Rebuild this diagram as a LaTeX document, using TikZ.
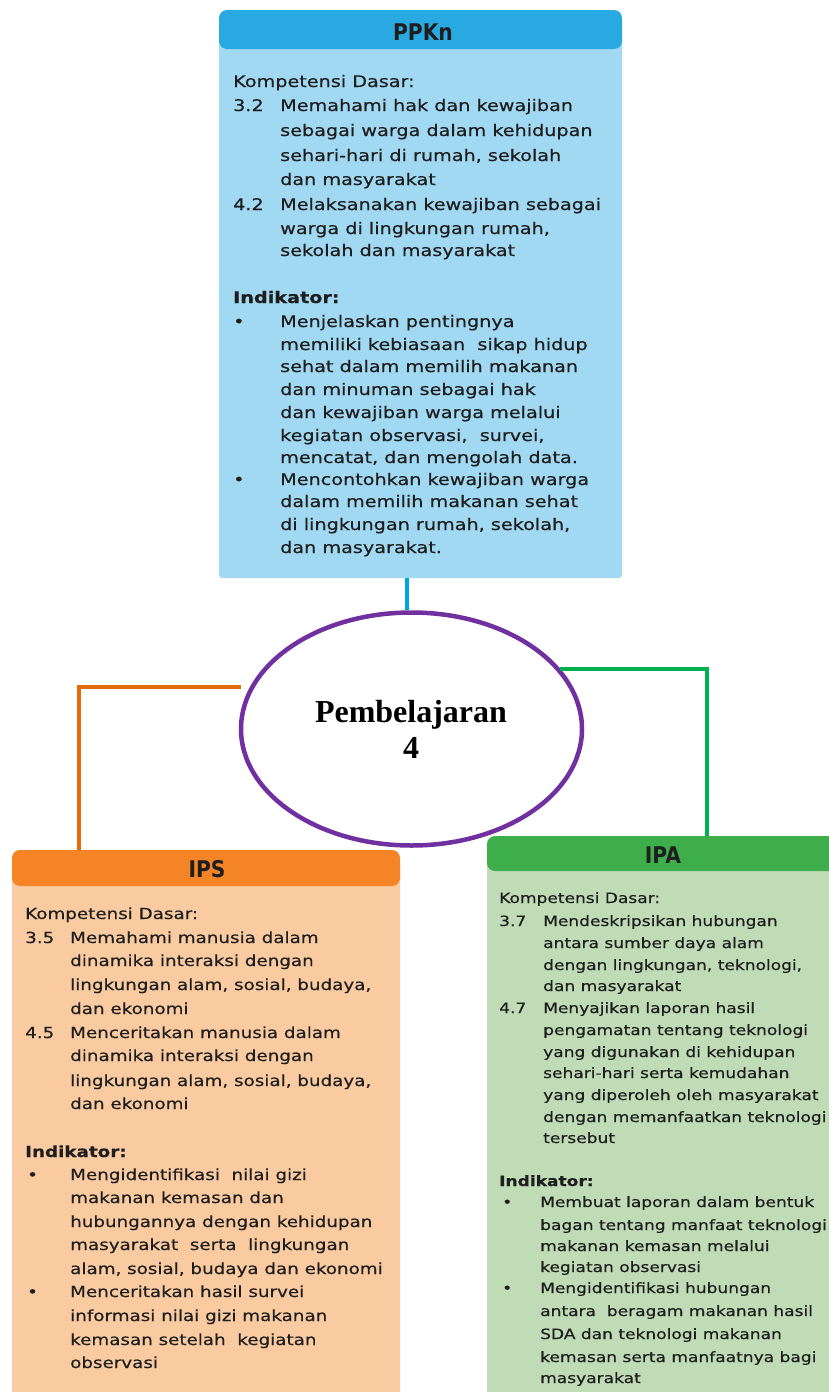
\documentclass[tikz,border=0pt]{standalone}
\usepackage{fontspec}
\usetikzlibrary{shapes.geometric}
\newfontfamily\bodyfont[FakeStretch=1.2,FakeBold=0.45]{DejaVu Sans}
\newfontfamily\hdrfont[FakeStretch=0.88]{DejaVu Sans}
\newfontfamily\serifb{Liberation Serif}
\definecolor{ppkhead}{HTML}{29A9E1}
\definecolor{ppkbody}{HTML}{A1D9F3}
\definecolor{ipshead}{HTML}{F48426}
\definecolor{ipsbody}{HTML}{FACBA1}
\definecolor{ipahead}{HTML}{3EAE4A}
\definecolor{ipabody}{HTML}{BFDCB6}
\definecolor{txtcol}{HTML}{1E1E1E}
\definecolor{bluel}{HTML}{00A2E8}
\definecolor{orangel}{HTML}{E46C0A}
\definecolor{greenl}{HTML}{00B050}
\definecolor{purplel}{HTML}{7030A0}
\newcounter{tlc}
\newcommand\tl[3]{\stepcounter{tlc}\node[txt] (t\arabic{tlc}) at (#1,#2) {#3};}
\begin{document}
\begin{tikzpicture}[x=1pt,y=-1pt,
  txt/.style={anchor=base west, inner sep=0pt, text=txtcol},
  hdrtxt/.style={anchor=base, inner sep=0pt, text=txtcol, font=\hdrfont\bfseries\fontsize{23}{26}\selectfont},
  bodybox/.style={rectangle, rounded corners=3pt, inner sep=0pt, draw=none},
  hdrbox/.style={rectangle, rounded corners=8pt, inner sep=0pt, draw=none},
  conn/.style={line width=4pt, line cap=butt, line join=miter}]
\useasboundingbox (0,0) rectangle (829,1392);
\fill[white] (0,0) rectangle (829,1392);

% ---------- PPKn ----------
\node[bodybox, fill=ppkbody, minimum width=403pt, minimum height=548pt] (ppkb) at (420.5,304) {};
\node[hdrbox, fill=ppkhead, minimum width=403pt, minimum height=39pt] (ppkh) at (420.5,29.5) {};
\node[hdrtxt] (ppkt) at (423,40) {PPKn};
\begin{scope}[every node/.append style={font=\bodyfont\fontsize{16}{19}\selectfont}]
\tl{233}{87}{Kompetensi Dasar:}
\tl{233}{111}{3.2}
\tl{280}{111}{Memahami hak dan kewajiban}
\tl{280}{136}{sebagai warga dalam kehidupan}
\tl{280}{161}{sehari-hari di rumah, sekolah}
\tl{280}{185}{dan masyarakat}
\tl{233}{210}{4.2}
\tl{280}{210}{Melaksanakan kewajiban sebagai}
\tl{280}{234}{warga di lingkungan rumah,}
\tl{280}{256}{sekolah dan masyarakat}
\tl{233}{303}{\bfseries Indikator:}
\tl{233}{327}{•}
\tl{280}{327}{Menjelaskan pentingnya}
\tl{280}{350}{memiliki kebiasaan\ \ sikap hidup}
\tl{280}{372}{sehat dalam memilih makanan}
\tl{280}{395}{dan minuman sebagai hak}
\tl{280}{418}{dan kewajiban warga melalui}
\tl{280}{441}{kegiatan observasi,\ \ survei,}
\tl{280}{463}{mencatat, dan mengolah data.}
\tl{233}{485}{•}
\tl{280}{485}{Mencontohkan kewajiban warga}
\tl{280}{507}{dalam memilih makanan sehat}
\tl{280}{530}{di lingkungan rumah, sekolah,}
\tl{280}{553}{dan masyarakat.}
\end{scope}

% ---------- IPS ----------
\node[bodybox, fill=ipsbody, minimum width=388pt, minimum height=532pt] (ipsb) at (206,1134) {};
\node[hdrbox, fill=ipshead, minimum width=388pt, minimum height=36pt] (ipsh) at (206,868) {};
\node[hdrtxt] (ipst) at (207,877) {IPS};
\begin{scope}[every node/.append style={font=\bodyfont\fontsize{15.25}{18}\selectfont}]
\tl{25}{919}{Kompetensi Dasar:}
\tl{25}{943}{3.5}
\tl{70}{943}{Memahami manusia dalam}
\tl{70}{966}{dinamika interaksi dengan}
\tl{70}{990}{lingkungan alam, sosial, budaya,}
\tl{70}{1014}{dan ekonomi}
\tl{25}{1038}{4.5}
\tl{70}{1038}{Menceritakan manusia dalam}
\tl{70}{1061}{dinamika interaksi dengan}
\tl{70}{1086}{lingkungan alam, sosial, budaya,}
\tl{70}{1109}{dan ekonomi}
\tl{25}{1157}{\bfseries Indikator:}
\tl{27}{1180}{•}
\tl{70}{1180}{Mengidentifikasi\ \ nilai gizi}
\tl{70}{1203}{makanan kemasan dan}
\tl{70}{1227}{hubungannya dengan kehidupan}
\tl{70}{1250}{masyarakat\ \ serta\ \ lingkungan}
\tl{70}{1274}{alam, sosial, budaya dan ekonomi}
\tl{27}{1297}{•}
\tl{70}{1297}{Menceritakan hasil survei}
\tl{70}{1321}{informasi nilai gizi makanan}
\tl{70}{1345}{kemasan setelah\ \ kegiatan}
\tl{70}{1368}{observasi}
\end{scope}

% ---------- IPA ----------
\node[bodybox, fill=ipabody, minimum width=345pt, minimum height=542pt] (ipab) at (659.5,1124) {};
\node[hdrbox, fill=ipahead, minimum width=350pt, minimum height=35pt] (ipah) at (662,853.5) {};
\node[hdrtxt] (ipat) at (663,863) {IPA};
\begin{scope}[every node/.append style={font=\bodyfont\fontsize{14.2}{17}\selectfont}]
\tl{499}{903}{Kompetensi Dasar:}
\tl{499}{926}{3.7}
\tl{543}{926}{Mendeskripsikan hubungan}
\tl{543}{948}{antara sumber daya alam}
\tl{543}{970}{dengan lingkungan, teknologi,}
\tl{543}{991}{dan masyarakat}
\tl{499}{1013}{4.7}
\tl{543}{1013}{Menyajikan laporan hasil}
\tl{543}{1035}{pengamatan tentang teknologi}
\tl{543}{1057}{yang digunakan di kehidupan}
\tl{543}{1078}{sehari-hari serta kemudahan}
\tl{543}{1100}{yang diperoleh oleh masyarakat}
\tl{543}{1122}{dengan memanfaatkan teknologi}
\tl{543}{1143}{tersebut}
\tl{499}{1186}{\bfseries Indikator:}
\tl{502}{1207}{•}
\tl{540}{1207}{Membuat laporan dalam bentuk}
\tl{540}{1230}{bagan tentang manfaat teknologi}
\tl{540}{1251}{makanan kemasan melalui}
\tl{540}{1272}{kegiatan observasi}
\tl{502}{1293}{•}
\tl{540}{1293}{Mengidentifikasi hubungan}
\tl{540}{1316}{antara\ \ beragam makanan hasil}
\tl{540}{1339}{SDA dan teknologi makanan}
\tl{540}{1362}{kemasan serta manfaatnya bagi}
\tl{540}{1383}{masyarakat}
\end{scope}

% ---------- centre ellipse ----------
\node[ellipse, draw=purplel, line width=4.5pt, fill=white, minimum width=341pt, minimum height=233pt, inner sep=0pt] (ell) at (411.5,729) {};
\node[anchor=base, inner sep=0pt, font=\serifb\bfseries\fontsize{32}{36}\selectfont, text=black] (ellt1) at (411,722) {Pembelajaran};
\node[anchor=base, inner sep=0pt, font=\serifb\bfseries\fontsize{32}{36}\selectfont, text=black] (ellt2) at (411,758) {4};

% ---------- connectors ----------
\coordinate (bx) at (407,0);
\coordinate (ox) at (79,0);
\coordinate (gx) at (707,0);
\coordinate (oend) at (241,687);
\draw[conn, draw=bluel] (ppkb.south -| bx) -- (ell.north -| bx);
\draw[conn, draw=orangel] (oend) -| (ipsh.north -| ox);
\draw[conn, draw=greenl] (ell.22) -| (ipah.north -| gx);
\end{tikzpicture}
\end{document}
